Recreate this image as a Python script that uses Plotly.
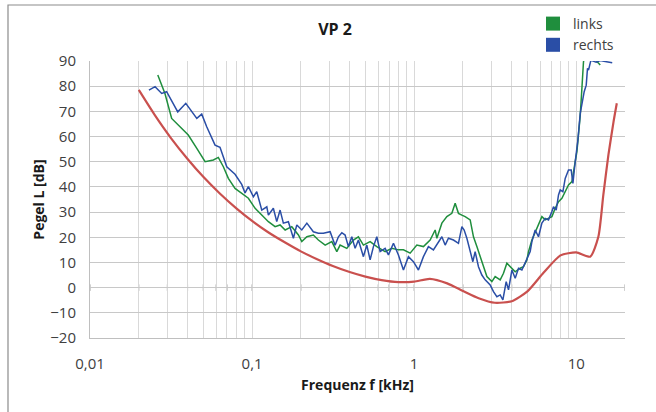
import plotly.graph_objects as go

# ---- data (frequency in kHz, level in dB) ----
freq_links = [0.0262, 0.0290, 0.0319, 0.0351, 0.0404, 0.0456, 0.0513, 0.0577, 0.0619, 0.0665,
              0.0714, 0.0785, 0.0863, 0.0949, 0.1044, 0.1148, 0.1261, 0.1387, 0.1489, 0.160,
              0.1758, 0.1932, 0.2027, 0.2178, 0.2388, 0.2565, 0.2825, 0.3105, 0.3334, 0.3492,
              0.3842, 0.4219, 0.4530, 0.4864, 0.5351, 0.5885, 0.6622, 0.7284, 0.800, 0.859,
              0.9447, 1.039, 1.141, 1.255, 1.348, 1.381, 1.483, 1.592, 1.709, 1.791,
              1.877, 1.970, 2.064, 2.217, 2.323, 2.438, 2.555, 2.678, 2.811, 3.017,
              3.162, 3.396, 3.558, 3.734, 3.913, 4.202, 4.511, 4.728, 4.962, 5.077,
              5.328, 5.584, 5.852, 6.141, 6.438, 6.745, 7.079, 7.419, 7.776, 8.160,
              8.553, 8.964, 9.408, 9.624, 9.858, 10.10, 10.33, 10.59, 10.84, 11.09,
              11.53, 12.38, 13.10, 14.07]
pegel_links = [84.4, 77.1, 67.2, 64.6, 60.6, 55.3, 50.0, 50.7, 51.7, 48.0,
               43.4, 39.4, 37.5, 35.5, 31.5, 28.8, 26.2, 24.2, 24.9, 22.9,
               24.2, 20.9, 18.3, 20.2, 20.9, 18.9, 16.9, 18.3, 14.3, 16.9,
               15.6, 18.9, 20.2, 16.9, 18.3, 16.3, 14.3, 15.6, 15.0, 15.0,
               13.7, 16.9, 16.3, 18.9, 22.9, 19.6, 25.6, 28.2, 29.5, 33.5,
               29.5, 28.8, 28.2, 26.9, 20.2, 16.3, 12.3, 8.3, 4.4, 2.4,
               4.4, 3.1, 5.7, 9.7, 8.3, 6.3, 7.7, 8.3, 11.0, 14.3,
               18.9, 22.2, 24.9, 28.2, 26.9, 27.5, 28.2, 31.5, 34.1, 35.5,
               38.1, 40.8, 42.1, 46.7, 50.0, 54.0, 60.6, 68.5, 79.1, 89.7,
               94.0, 95.0, 90.5, 88.4]

freq_rechts = [0.0231, 0.0252, 0.0277, 0.0297, 0.0348, 0.0390, 0.0456, 0.0489, 0.0525, 0.0591,
               0.0634, 0.0698, 0.0785, 0.0863, 0.0905, 0.0949, 0.1019, 0.1069, 0.1148, 0.1233,
               0.1261, 0.1353, 0.1420, 0.1489, 0.1560, 0.1675, 0.1799, 0.1888, 0.2027, 0.2178,
               0.2388, 0.2565, 0.2754, 0.2958, 0.3031, 0.3252, 0.3410, 0.3579, 0.3750, 0.3929,
               0.4125, 0.4324, 0.4530, 0.4864, 0.5105, 0.5351, 0.5608, 0.5885, 0.6168, 0.6622,
               0.6940, 0.7454, 0.800, 0.859, 0.9222, 0.9901, 1.063, 1.141, 1.225, 1.315,
               1.413, 1.483, 1.554, 1.628, 1.748, 1.877, 1.970, 2.035, 2.115, 2.217,
               2.303, 2.379, 2.494, 2.617, 2.743, 2.945, 3.087, 3.240, 3.396, 3.528,
               3.698, 3.821, 4.010, 4.202, 4.404, 4.622, 4.844, 4.962, 5.200, 5.328,
               5.451, 5.584, 5.852, 6.141, 6.438, 6.745, 7.079, 7.242, 7.525, 7.776,
               7.965, 8.277, 8.553, 8.964, 9.314, 9.542, 9.858, 10.24, 10.59, 10.84,
               11.20, 11.53, 11.74, 11.91, 12.08, 12.32, 13.29, 14.07, 15.10, 16.68]
pegel_rechts = [78.4, 79.8, 77.1, 77.8, 69.8, 73.2, 67.2, 68.9, 63.9, 56.6,
                55.7, 48.0, 45.0, 41.0, 37.6, 40.1, 36.1, 38.1, 30.8, 32.1,
                28.8, 31.5, 26.2, 30.8, 25.6, 26.2, 19.6, 24.9, 22.9, 25.6,
                22.2, 21.6, 21.6, 22.2, 22.2, 16.8, 20.2, 21.8, 20.9, 16.3,
                20.2, 15.6, 18.9, 12.3, 16.9, 11.0, 16.3, 20.2, 14.3, 15.6,
                13.0, 17.6, 13.0, 7.0, 12.3, 10.3, 7.0, 12.3, 16.3, 15.0,
                18.3, 20.2, 16.9, 19.6, 18.9, 17.6, 24.2, 22.9, 19.6, 15.0,
                10.3, 14.3, 8.3, 5.0, 3.1, 1.1, -1.6, -3.6, -2.9, -4.9,
                2.4, -0.9, 7.0, 3.7, 7.7, 7.0, 9.7, 11.7, 14.3, 18.3,
                20.2, 22.9, 20.2, 25.6, 27.5, 26.9, 30.2, 32.1, 30.8, 36.8,
                38.8, 38.1, 43.4, 46.7, 46.7, 41.4, 50.0, 58.6, 69.2, 73.2,
                77.8, 80.4, 87.1, 86.4, 88.4, 90.3, 89.5, 90.2, 89.8, 89.3]

freq_schwelle = [0.02, 0.025, 0.0315, 0.04, 0.05, 0.063, 0.08, 0.1, 0.125, 0.16,
                 0.2, 0.25, 0.315, 0.4, 0.5, 0.63, 0.8, 1.0, 1.25, 1.6,
                 2.0, 2.5, 3.15, 4.0, 5.0, 6.3, 8.0, 10.0, 12.2, 13.7,
                 14.7, 15.8, 17.0, 17.8]
pegel_schwelle = [78.5, 68.7, 59.5, 51.1, 44.0, 37.5, 31.5, 26.5, 22.1, 17.9,
                  14.4, 11.4, 8.6, 6.2, 4.4, 3.0, 2.2, 2.4, 3.5, 1.7,
                  -1.3, -4.2, -6.0, -5.4, -1.5, 6.0, 12.8, 14.0, 12.3, 20.2,
                  36.8, 52.7, 65.9, 73.2]

x_tickvals = [0.01, 0.02, 0.03, 0.04, 0.05, 0.06, 0.07, 0.08, 0.09,
              0.1, 0.2, 0.3, 0.4, 0.5, 0.6, 0.7, 0.8, 0.9,
              1, 2, 3, 4, 5, 6, 7, 8, 9, 10, 20]
x_ticktext = ["0,01", "", "", "", "", "", "", "", "",
              "0,1", "", "", "", "", "", "", "", "",
              "1", "", "", "", "", "", "", "", "", "10", ""]
y_tickvals = [-20, -10, 0, 10, 20, 30, 40, 50, 60, 70, 80, 90]

series_names = ["links", "rechts"]
FONT = "'Open Sans', Lato, sans-serif"
GREEN = "#1f8e3d"
BLUE = "#2a4ea6"
RED = "#c9504e"
TEXT = "#404040"

fig = go.Figure()
fig.add_trace(go.Scatter(x=freq_schwelle, y=pegel_schwelle, mode="lines",
                         line=dict(color=RED, width=2.2, shape="spline", smoothing=0.6),
                         showlegend=False, hoverinfo="x+y"))
fig.add_trace(go.Scatter(x=freq_links, y=pegel_links, mode="lines",
                         line=dict(color=GREEN, width=1.5), showlegend=False))
fig.add_trace(go.Scatter(x=freq_rechts, y=pegel_rechts, mode="lines",
                         line=dict(color=BLUE, width=1.5), showlegend=False))
# legend entries with square symbols
for name, col in zip(series_names, [GREEN, BLUE]):
    fig.add_trace(go.Scatter(x=[None], y=[None], mode="markers", name=name,
                             marker=dict(symbol="square", size=14, color=col)))

# small tick marks on the 0 dB line (Excel axis crossing)
shapes = []
for v in x_tickvals:
    shapes.append(dict(type="line", xref="x", yref="y", x0=v, x1=v, y0=-1.3, y1=1.3,
                       line=dict(color="#a0a0a0", width=1), layer="below"))
# outer chart frame
shapes.append(dict(type="rect", xref="paper", yref="paper",
                   x0=(8 - 90) / 535, x1=1.2, y0=-0.4, y1=(338 - 5) / 277,
                   line=dict(color="#8c8c8c", width=1.2), fillcolor="rgba(0,0,0,0)"))

fig.update_layout(
    width=656, height=412,
    margin=dict(l=90, r=31, t=61, b=74, autoexpand=False),
    paper_bgcolor="white", plot_bgcolor="white",
    font=dict(family=FONT, color=TEXT, size=14),
    title=dict(text="<b>VP 2</b>", x=(335 - 90) / 535, xref="paper", xanchor="center",
               y=(412 - 29) / 412, yanchor="middle", font=dict(size=16, color="#1a1a1a")),
    showlegend=True,
    legend=dict(x=(533 - 90) / 535, y=(338 - 8) / 277, xanchor="left", yanchor="top",
                bgcolor="rgba(0,0,0,0)", font=dict(size=14, color=TEXT),
                itemsizing="trace", tracegroupgap=0),
    shapes=shapes,
)
fig.update_xaxes(type="log", range=[-2, 1.30103], tickvals=x_tickvals, ticktext=x_ticktext,
                 showgrid=True, gridcolor="#d9d9d9", gridwidth=1, ticks="",
                 showline=True, linecolor="#bfbfbf", linewidth=1, mirror=False,
                 zeroline=False, ticklabelstandoff=12,
                 title=dict(text="<b>Frequenz f [kHz]</b>", standoff=8,
                            font=dict(size=14, color="#1a1a1a")),
                 tickfont=dict(size=15, color=TEXT))
fig.update_yaxes(range=[-20, 90], tickvals=y_tickvals,
                 showgrid=True, gridcolor="#c8c8c8", gridwidth=1, ticks="",
                 showline=True, linecolor="#bfbfbf", linewidth=1,
                 zeroline=False, ticklabelstandoff=10,
                 title=dict(text="<b>Pegel L [dB]</b>", standoff=2,
                            font=dict(size=14, color="#1a1a1a")),
                 tickfont=dict(size=15, color=TEXT))

fig.write_html("out.html", config={"displayModeBar": False},
               post_script="document.body.style.margin='0';document.body.style.overflow='hidden';")
